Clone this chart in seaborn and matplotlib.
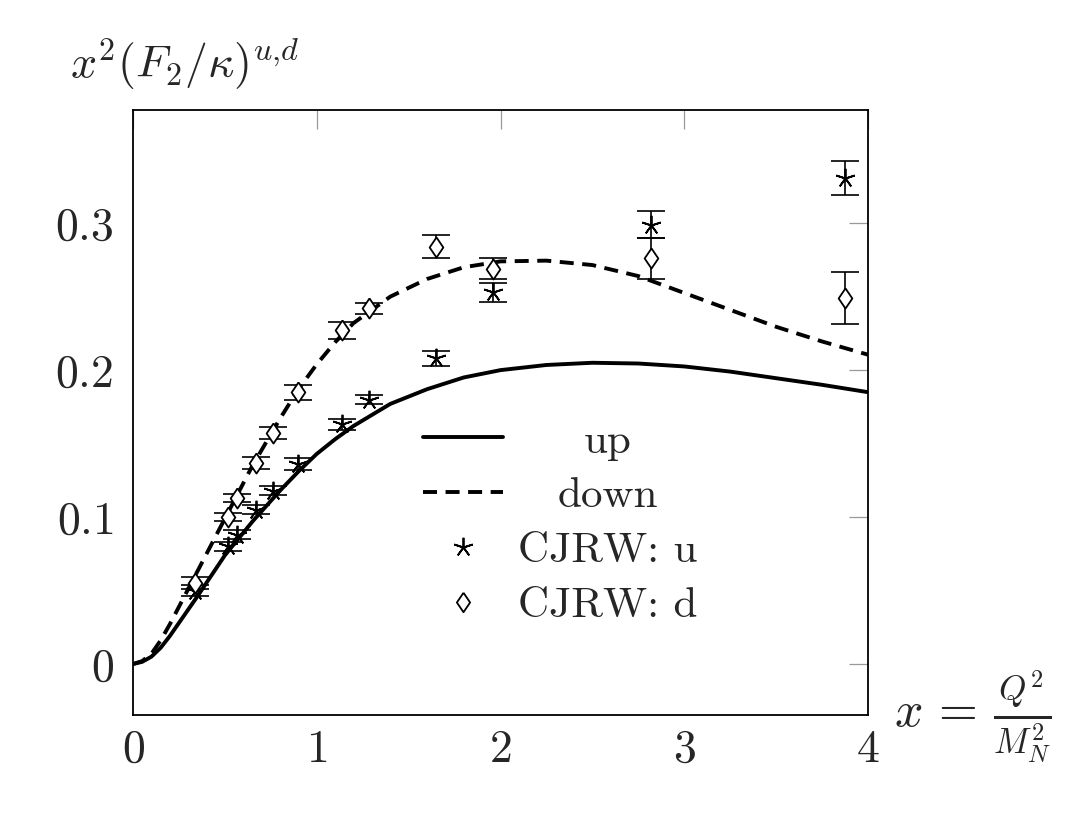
import numpy as np
import pandas as pd
import matplotlib
matplotlib.use('Agg')
import matplotlib.pyplot as plt
import seaborn as sns
from matplotlib.lines import Line2D

# model curves
x_curve = [0, 0.05, 0.1, 0.15, 0.2, 0.25, 0.35, 0.5, 0.65, 0.8, 0.9, 1.0, 1.1,
           1.2, 1.4, 1.6, 1.8, 2.0, 2.25, 2.5, 2.75, 3.0, 3.25, 3.5, 3.75, 4.0]
up_curve = [0, 0.0015, 0.005, 0.011, 0.019, 0.028, 0.046, 0.074, 0.097, 0.118,
            0.131, 0.143, 0.153, 0.162, 0.177, 0.187, 0.195, 0.200, 0.2035,
            0.205, 0.2045, 0.2025, 0.199, 0.1945, 0.19, 0.185]
down_curve = [0, 0.002, 0.007, 0.016, 0.027, 0.039, 0.063, 0.099, 0.135, 0.167,
              0.187, 0.204, 0.219, 0.232, 0.250, 0.262, 0.270, 0.274, 0.2745,
              0.2715, 0.264, 0.2525, 0.241, 0.2295, 0.2195, 0.2105]

# CJRW data points
x_data = [0.337, 0.517, 0.566, 0.669, 0.762, 0.898, 1.137, 1.284, 1.649, 1.96, 2.82, 3.875]
u_data = [0.050, 0.080, 0.088, 0.105, 0.118, 0.136, 0.163, 0.180, 0.208, 0.253, 0.299, 0.331]
u_err = [0.004, 0.003, 0.003, 0.003, 0.003, 0.004, 0.004, 0.003, 0.005, 0.0065, 0.009, 0.0115]
d_data = [0.055, 0.100, 0.113, 0.137, 0.157, 0.185, 0.227, 0.242, 0.284, 0.269, 0.276, 0.249]
d_err = [0.004, 0.003, 0.003, 0.004, 0.004, 0.005, 0.006, 0.004, 0.008, 0.007, 0.014, 0.0175]

sns.set_style('white')
plt.rcParams['mathtext.fontset'] = 'cm'
plt.rcParams['font.family'] = ['cmr10', 'DejaVu Serif']
plt.rcParams['axes.formatter.use_mathtext'] = True

# pgfplots style diamond (a bit wider than matplotlib's thin diamond)
diamond = [(0, 1), (0.68, 0), (0, -1), (-0.68, 0), (0, 1)]

curves = pd.DataFrame({'x': x_curve, 'up': up_curve, 'down': down_curve})

fig = plt.figure(figsize=(10.87, 8.15), dpi=100)
ax = fig.add_axes([0.1224, 0.1227, 0.6761, 0.7423])

sns.lineplot(data=curves, x='x', y='up', ax=ax, color='black', lw=2.8)
sns.lineplot(data=curves, x='x', y='down', ax=ax, color='black', lw=2.8)
ax.lines[-1].set_dashes((3.6, 2.2))

# error bars + markers
ax.errorbar(x_data, u_data, yerr=u_err, fmt='none', ecolor='black',
            elinewidth=1.2, capsize=10, capthick=1.2)
ax.errorbar(x_data, d_data, yerr=d_err, fmt='none', ecolor='black',
            elinewidth=1.2, capsize=10, capthick=1.2)
ax.plot(x_data, u_data, ls='none', marker=(5, 2, 0), ms=14, mec='black',
        mew=1.3, color='black')
ax.plot(x_data, d_data, ls='none', marker=diamond, ms=14.5, mfc='white',
        mec='black', mew=1.3)

ax.set_xlim(0, 4)
ax.set_ylim(-0.0347, 0.377)
ax.set_xticks([0, 1, 2, 3, 4])
ax.set_xticklabels(['$0$', '$1$', '$2$', '$3$', '$4$'])
ax.set_yticks([0, 0.1, 0.2, 0.3])
ax.set_yticklabels(['$0$', '$0.1$', '$0.2$', '$0.3$'])
ax.tick_params(direction='in', length=14, width=0.9, color='#999999',
               top=True, right=True, labelsize=33)
ax.tick_params(axis='y', pad=14)
ax.tick_params(axis='x', pad=10)
for s in ax.spines.values():
    s.set_color('black')
    s.set_linewidth(1.3)
ax.set_xlabel('')
ax.set_ylabel('')

fig.text(0.064, 0.922, r'$x^2(F_2/\kappa)^{u{,}d}$', fontsize=33,
         ha='left', va='center')
fig.text(0.822, 0.12, r'$x\,=\,\frac{Q^2}{M_N^2}$', fontsize=36,
         ha='left', va='center')

handles = [
    Line2D([], [], color='black', lw=2.8),
    Line2D([], [], color='black', lw=2.8, dashes=(3.6, 2.2)),
    Line2D([], [], ls='none', marker=(5, 2, 0), ms=14, color='black', mew=1.3),
    Line2D([], [], ls='none', marker=diamond, ms=14, mfc='white', mec='black', mew=1.3),
]
labels = ['up', 'down', 'CJRW: u', 'CJRW: d']
leg = ax.legend(handles, labels, loc='center', bbox_to_anchor=(0.581, 0.316),
                frameon=False, fontsize=31, handlelength=1.86,
                labelspacing=0.39, handletextpad=0.35)

# centre the legend texts within their column, like pgfplots does
fig.canvas.draw()
r = fig.canvas.get_renderer()
widths = [t.get_window_extent(r).width for t in leg.get_texts()]
wmax = max(widths)
for t, w in zip(leg.get_texts(), widths):
    t.set_position(((wmax - w) / 2, 0))

fig.savefig('out.png', dpi=100)
